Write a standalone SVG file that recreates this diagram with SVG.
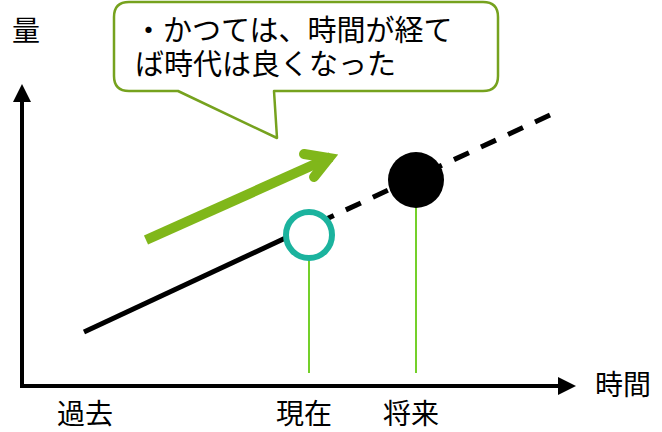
<svg xmlns="http://www.w3.org/2000/svg" width="662" height="432" viewBox="0 0 662 432">
  <style>
    .lbl { font-family: "Noto Sans CJK JP", "Noto Sans", sans-serif; font-size: 28px; fill: #000; }
    .call { font-family: "Noto Sans CJK JP", "Noto Sans", sans-serif; font-size: 29px; fill: #000; }
    .axis { stroke: #000; stroke-width: 4; fill: none; }
    .drop { stroke: #74d02a; stroke-width: 2; fill: none; }
  </style>
  <defs>
    <marker id="ah" markerWidth="4.5" markerHeight="4.5" refX="0.5" refY="2.25" orient="auto" markerUnits="strokeWidth">
      <path d="M0,0 L4.5,2.25 L0,4.5 Z" fill="#000"/>
    </marker>
  </defs>
  <rect width="662" height="432" fill="#fff"/>

  <g id="connectors">
    <!-- axes -->
    <path class="axis" d="M22,386 L22,100" marker-end="url(#ah)"/>
    <path class="axis" d="M20,386 L560,386" marker-end="url(#ah)"/>
    <!-- trend lines -->
    <path d="M84,332 L309,227" stroke="#000" stroke-width="5" fill="none"/>
    <path d="M550,115 L309,227" stroke="#000" stroke-width="5" fill="none" stroke-dasharray="16.5 13.3"/>
    <!-- drop lines -->
    <line class="drop" x1="309" y1="258" x2="309" y2="373"/>
    <line class="drop" x1="416" y1="205" x2="416" y2="373"/>
    <!-- green trend arrow -->
    <g stroke="#80b71a" stroke-width="10" fill="none">
      <line x1="146" y1="240" x2="331" y2="157"/>
      <polyline points="304,154 329,158 314,177" stroke-linecap="round" stroke-linejoin="miter"/>
    </g>
  </g>

  <g id="now">
    <circle cx="309" cy="235" r="23" fill="#fff" stroke="#1bb39e" stroke-width="6"/>
  </g>
  <g id="future">
    <circle cx="416" cy="180" r="28" fill="#000"/>
  </g>

  <g id="callout">
    <path d="M129,2 L483,2 Q498,2 498,17 L498,76 Q498,91 483,91 L274,91 L277,138 L178,91 L129,91 Q114,91 114,76 L114,17 Q114,2 129,2 Z" fill="#fff" stroke="#76a21e" stroke-width="2.5" stroke-linejoin="round"/>
    <text class="call"><tspan x="134" y="41">・かつては、時間が経て</tspan><tspan x="135" y="75">ば時代は良くなった</tspan></text>
  </g>

  <g id="labels">
    <text class="lbl" x="12" y="41">量</text>
    <text class="lbl" x="57" y="424">過去</text>
    <text class="lbl" x="276" y="424">現在</text>
    <text class="lbl" x="383" y="424">将来</text>
    <text class="lbl" x="595" y="395">時間</text>
  </g>
</svg>
